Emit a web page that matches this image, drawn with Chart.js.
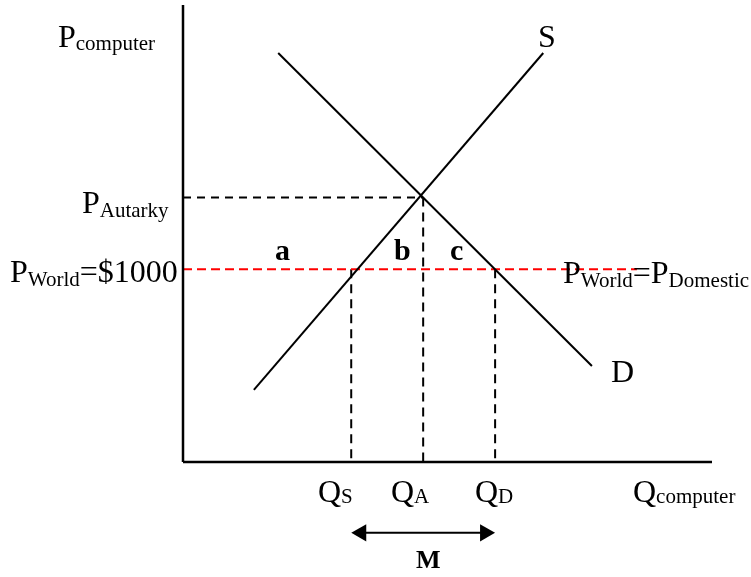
<!DOCTYPE html>
<html>
<head>
<meta charset="utf-8">
<script src="https://cdn.jsdelivr.net/npm/chart.js@4/dist/chart.umd.min.js"></script>
<style>
  html, body { margin: 0; padding: 0; background: #fff; }
  #wrap { width: 751px; height: 577px; }
</style>
</head>
<body>
<div id="wrap"><canvas id="chart" width="751" height="577"></canvas></div>
<script>
// values (Q axis 0-100, P axis 0-100)
const supplyQ = [13.4, 68.1];
const supplyP = [15.8, 89.5];
const demandQ = [18.0, 77.3];
const demandP = [89.5, 21.0];
const pAutarky = 57.9;
const pWorld = 42.2;
const qS = 31.8;
const qA = 45.4;
const qD = 59.0;
const worldLineEnd = 85.8;
const qAxisMax = 100;
const pAxisMax = 100;
const importArrowP = -15.5;

const SERIF = '"Liberation Serif", "Times New Roman", serif';

function seg(x1, y1, x2, y2, color, width, dash) {
    return {
        data: [{ x: x1, y: y1 }, { x: x2, y: y2 }],
        borderColor: color,
        borderWidth: width,
        borderDash: dash || [],
        borderCapStyle: "butt",
        pointRadius: 0,
        fill: false,
        tension: 0,
    };
}

const datasets = [
    // axes
    seg(0, 0, 0, pAxisMax, "#000", 2.5),
    seg(0, 0, qAxisMax, 0, "#000", 2.5),
    // supply and demand
    seg(supplyQ[0], supplyP[0], supplyQ[1], supplyP[1], "#000", 2),
    seg(demandQ[0], demandP[0], demandQ[1], demandP[1], "#000", 2),
    // price lines
    seg(0, pAutarky, qA, pAutarky, "#000", 2, [8, 6]),
    seg(0, pWorld, worldLineEnd, pWorld, "#ff0000", 2, [9, 5]),
    // quantity drop lines
    seg(qS, pWorld, qS, 0, "#000", 2, [9, 6]),
    seg(qA, pAutarky, qA, 0, "#000", 2, [9, 6]),
    seg(qD, pWorld, qD, 0, "#000", 2, [9, 6]),
];

// import arrow M between QS and QD
const arrowInset = 1.9;
const arrow = seg(qS + arrowInset, importArrowP, qD - arrowInset, importArrowP, "#000", 2);
arrow.pointRadius = 10;
arrow.pointStyle = "triangle";
arrow.pointRotation = [-90, 90];
arrow.pointBackgroundColor = "#000";
arrow.pointBorderColor = "#000";
arrow.pointBorderWidth = 0;
datasets.push(arrow);

function drawParts(ctx, x, y, parts, bold) {
    parts.forEach(function (p) {
        const sub = typeof p !== "string";
        const t = sub ? p.s : p;
        ctx.font = (bold ? "bold " : "") + (sub ? 21 : 32) + "px " + SERIF;
        ctx.fillText(t, x, y + (sub ? (p.dy || 4) : 0));
        x += ctx.measureText(t).width;
    });
}

const labelsPlugin = {
    id: "econLabels",
    afterDatasetsDraw(chart) {
        const ctx = chart.ctx;
        ctx.save();
        ctx.fillStyle = "#000";
        ctx.textBaseline = "alphabetic";
        ctx.textAlign = "left";

        drawParts(ctx, 58, 47, ["P", { s: "computer", dy: 3 }]);
        drawParts(ctx, 82, 213, ["P", { s: "Autarky" }]);
        drawParts(ctx, 10, 282, ["P", { s: "World" }, "=$1000"]);
        drawParts(ctx, 563, 283, ["P", { s: "World" }, "=P", { s: "Domestic" }]);
        drawParts(ctx, 538, 47, ["S"]);
        drawParts(ctx, 611, 382, ["D"]);

        ctx.font = "bold 30px " + SERIF;
        ctx.fillText("a", 275, 260);
        ctx.fillText("b", 394, 260);
        ctx.fillText("c", 450, 260);

        drawParts(ctx, 318, 502, ["Q", { s: "S", dy: 1 }]);
        drawParts(ctx, 391, 502, ["Q", { s: "A", dy: 1 }]);
        drawParts(ctx, 475, 502, ["Q", { s: "D", dy: 1 }]);
        drawParts(ctx, 633, 502, ["Q", { s: "computer", dy: 1 }]);

        ctx.font = "bold 26px " + SERIF;
        ctx.fillText("M", 416, 568);
        ctx.restore();
    },
};

// map the whole canvas onto the data units
const pxPerQ = 5.29, pxPerP = 4.57;
const originX = 183, originY = 462;

new Chart(document.getElementById("chart").getContext("2d"), {
    type: "line",
    data: { datasets: datasets },
    options: {
        responsive: false,
        animation: false,
        layout: { padding: 0, autoPadding: false },
        scales: {
            x: { type: "linear", display: false, min: -originX / pxPerQ, max: (751 - originX) / pxPerQ },
            y: { type: "linear", display: false, min: (originY - 577) / pxPerP, max: originY / pxPerP },
        },
        plugins: {
            legend: { display: false },
            tooltip: { enabled: false },
        },
    },
    plugins: [labelsPlugin],
});
</script>
</body>
</html>
